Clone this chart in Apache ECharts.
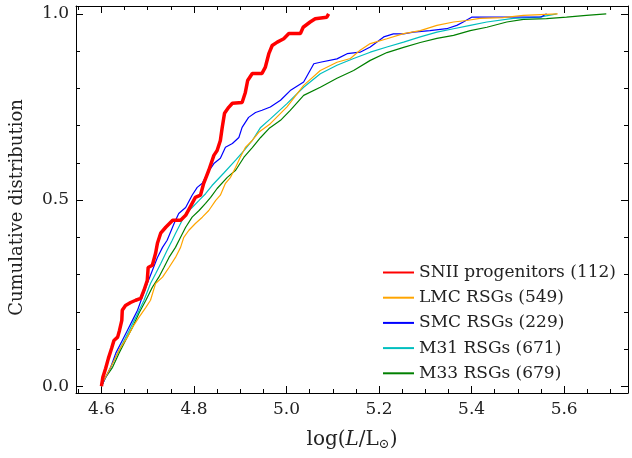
<!DOCTYPE html>
<html lang="en">

<head>
  <meta charset="UTF-8">
  <title>Cumulative distribution</title>
  <script src="https://cdn.jsdelivr.net/npm/echarts@6/dist/echarts.min.js"></script>
  <style>
    html, body { margin: 0; padding: 0; background: #fff; }
    #main { width: 632px; height: 458px; }
  </style>
</head>

<body>
  <div id="main"></div>
</body>
<script>
  // [log L, cumulative fraction]
  let snii = [
    [4.600, 0.000], [4.603, 0.024], [4.609, 0.048], [4.615, 0.075], [4.622, 0.102], [4.627, 0.123],
    [4.635, 0.132], [4.639, 0.150], [4.644, 0.177], [4.645, 0.204], [4.652, 0.217], [4.663, 0.225],
    [4.674, 0.231], [4.685, 0.236], [4.692, 0.258], [4.699, 0.284], [4.701, 0.319], [4.710, 0.325],
    [4.717, 0.357], [4.721, 0.384], [4.728, 0.411], [4.739, 0.427], [4.754, 0.446], [4.771, 0.446],
    [4.782, 0.459], [4.796, 0.491], [4.803, 0.507], [4.814, 0.513], [4.821, 0.545], [4.832, 0.580],
    [4.843, 0.620], [4.850, 0.633], [4.857, 0.660], [4.861, 0.695], [4.866, 0.733], [4.875, 0.749],
    [4.883, 0.760], [4.904, 0.762], [4.911, 0.789], [4.916, 0.821], [4.926, 0.840], [4.947, 0.840],
    [4.954, 0.856], [4.962, 0.894], [4.969, 0.915], [4.980, 0.924], [4.994, 0.933], [5.005, 0.947],
    [5.030, 0.947], [5.036, 0.964], [5.051, 0.978], [5.062, 0.987], [5.087, 0.991], [5.091, 1.000]
  ]
  let lmc = [
    [4.600, 0.000], [4.602, 0.008], [4.620, 0.051], [4.638, 0.097], [4.656, 0.132], [4.667, 0.158],
    [4.681, 0.185], [4.696, 0.212], [4.706, 0.231], [4.717, 0.276], [4.732, 0.293], [4.746, 0.319],
    [4.760, 0.346], [4.771, 0.373], [4.778, 0.400], [4.789, 0.419], [4.803, 0.437], [4.818, 0.454],
    [4.832, 0.472], [4.847, 0.499], [4.857, 0.513], [4.868, 0.545], [4.879, 0.561], [4.890, 0.588],
    [4.900, 0.615], [4.911, 0.641], [4.926, 0.660], [4.940, 0.682], [4.965, 0.705], [5.001, 0.750],
    [5.037, 0.808], [5.073, 0.848], [5.109, 0.870], [5.138, 0.880], [5.159, 0.902], [5.181, 0.920],
    [5.217, 0.933], [5.253, 0.947], [5.289, 0.955], [5.325, 0.969], [5.361, 0.978], [5.389, 0.982],
    [5.418, 0.988], [5.468, 0.990], [5.512, 0.996], [5.586, 1.000]
  ]
  let smc = [
    [4.600, 0.000], [4.606, 0.016], [4.620, 0.051], [4.631, 0.089], [4.645, 0.123], [4.656, 0.150],
    [4.667, 0.177], [4.678, 0.204], [4.688, 0.239], [4.699, 0.276], [4.710, 0.311], [4.721, 0.346],
    [4.732, 0.373], [4.742, 0.392], [4.757, 0.437], [4.767, 0.464], [4.782, 0.480], [4.796, 0.513],
    [4.807, 0.534], [4.818, 0.545], [4.829, 0.572], [4.843, 0.598], [4.857, 0.612], [4.868, 0.642],
    [4.883, 0.652], [4.897, 0.668], [4.904, 0.695], [4.918, 0.722], [4.933, 0.735], [4.947, 0.741],
    [4.965, 0.750], [4.987, 0.768], [5.008, 0.794], [5.037, 0.817], [5.059, 0.866], [5.073, 0.870],
    [5.109, 0.879], [5.131, 0.893], [5.159, 0.897], [5.181, 0.911], [5.210, 0.938], [5.231, 0.946],
    [5.253, 0.946], [5.274, 0.951], [5.310, 0.955], [5.346, 0.960], [5.368, 0.969], [5.382, 0.978],
    [5.400, 0.991], [5.551, 0.992], [5.562, 1.000]
  ]
  let m31 = [
    [4.600, 0.000], [4.606, 0.016], [4.624, 0.061], [4.642, 0.106], [4.660, 0.150], [4.674, 0.185],
    [4.692, 0.231], [4.706, 0.276], [4.717, 0.302], [4.728, 0.329], [4.742, 0.365], [4.753, 0.392],
    [4.760, 0.410], [4.771, 0.437], [4.782, 0.464], [4.796, 0.480], [4.811, 0.499], [4.825, 0.517],
    [4.839, 0.539], [4.864, 0.572], [4.890, 0.607], [4.908, 0.633], [4.926, 0.660], [4.944, 0.695],
    [4.965, 0.718], [5.001, 0.759], [5.037, 0.803], [5.073, 0.839], [5.109, 0.862], [5.145, 0.880],
    [5.181, 0.897], [5.217, 0.911], [5.253, 0.924], [5.289, 0.938], [5.325, 0.951], [5.361, 0.960],
    [5.397, 0.969], [5.433, 0.978], [5.490, 0.988], [5.547, 0.991], [5.584, 1.000]
  ]
  let m33 = [
    [4.600, 0.000], [4.609, 0.024], [4.624, 0.051], [4.638, 0.089], [4.652, 0.123], [4.667, 0.158],
    [4.681, 0.196], [4.696, 0.231], [4.710, 0.266], [4.724, 0.293], [4.735, 0.319], [4.746, 0.346],
    [4.760, 0.373], [4.771, 0.400], [4.782, 0.427], [4.796, 0.454], [4.811, 0.472], [4.825, 0.491],
    [4.836, 0.507], [4.850, 0.531], [4.872, 0.561], [4.890, 0.580], [4.908, 0.615], [4.926, 0.641],
    [4.944, 0.668], [4.962, 0.692], [4.987, 0.714], [5.008, 0.741], [5.037, 0.781], [5.073, 0.803],
    [5.109, 0.827], [5.145, 0.848], [5.181, 0.875], [5.217, 0.896], [5.253, 0.910], [5.289, 0.923],
    [5.325, 0.934], [5.361, 0.942], [5.397, 0.955], [5.433, 0.964], [5.476, 0.978], [5.512, 0.985],
    [5.562, 0.987], [5.605, 0.991], [5.648, 0.996], [5.691, 1.000]
  ]

  let xMajor = [4.6, 4.8, 5.0, 5.2, 5.4, 5.6]
  let xMinor = [4.55, 4.65, 4.7, 4.75, 4.85, 4.9, 4.95, 5.05, 5.1, 5.15, 5.25, 5.3, 5.35, 5.45, 5.5, 5.55, 5.65, 5.7]
  let yMajor = [0, 0.5, 1.0]
  let yMinor = [0.1, 0.2, 0.3, 0.4, 0.6, 0.7, 0.8, 0.9]

  let names = ['SNII progenitors (112)', 'LMC RSGs (549)', 'SMC RSGs (229)', 'M31 RSGs (671)', 'M33 RSGs (679)']
  let colors = ['#ff0000', '#ffa500', '#0000ff', '#00bfbf', '#008000']

  let font = 'DejaVu Serif'
  let xMin = 4.545, xMax = 5.738, yMin = -0.018, yMax = 1.021

  initChart()

  // one axis per side for the frame + major ticks, one more per side for minor ticks
  function axisOf(horiz, position, values, len, labels) {
    let axis = {
      type: 'value', position: position,
      min: horiz ? xMin : yMin, max: horiz ? xMax : yMax,
      axisLine: { show: labels !== null, onZero: false, lineStyle: { color: '#000' } },
      axisTick: { show: true, inside: true, length: len, customValues: values, lineStyle: { color: '#000' } },
      axisLabel: { show: false },
      splitLine: { show: false }
    }
    if (labels) {
      axis.axisLabel = {
        show: true, customValues: values, color: '#222', fontFamily: font, fontSize: 17,
        margin: horiz ? 8 : 7,
        formatter: v => v.toFixed(1)
      }
    }
    return axis
  }

  function initChart() {
    let myChart = echarts.init(document.getElementById('main'));
    let xs = [
      axisOf(true, 'bottom', xMajor, 7, true),
      axisOf(true, 'top', xMajor, 7, false),
      axisOf(true, 'bottom', xMinor, 4, null),
      axisOf(true, 'top', xMinor, 4, null)
    ]
    xs[0].name = '{n|log(}{i|L}{n|/L}{s|⊙}{n|)}'
    xs[0].nameLocation = 'middle'
    xs[0].nameGap = 36
    xs[0].nameTextStyle = {
      rich: {
        n: { fontFamily: font, fontSize: 20, color: '#222' },
        i: { fontFamily: font, fontSize: 20, fontStyle: 'italic', color: '#222' },
        s: { fontFamily: font, fontSize: 13, color: '#222', verticalAlign: 'bottom', padding: [9, 0, 0, 0] }
      }
    }
    let ys = [
      axisOf(false, 'left', yMajor, 7, true),
      axisOf(false, 'right', yMajor, 7, false),
      axisOf(false, 'left', yMinor, 4, null),
      axisOf(false, 'right', yMinor, 4, null)
    ]
    ys[0].name = 'Cumulative distribution'
    ys[0].nameLocation = 'middle'
    ys[0].nameGap = 50
    ys[0].nameTextStyle = { fontFamily: font, fontSize: 18, color: '#222', padding: [0, 16, 0, 0] }

    let sets = [snii, lmc, smc, m31, m33]
    let series = sets.map((d, i) => ({
      name: names[i],
      type: 'line',
      data: d,
      symbol: 'none',
      z: i === 0 ? 10 : 5 - i,
      color: colors[i],
      lineStyle: { color: colors[i], width: i === 0 ? 3.5 : 1.2 }
    }))

    let option = {
      animation: false,
      grid: { left: 76, right: 4, top: 6, bottom: 65 },
      legend: {
        orient: 'vertical',
        left: 382,
        top: 264,
        padding: 0,
        itemWidth: 31,
        itemHeight: 14,
        itemGap: 8.2,
        itemStyle: { color: 'rgba(0,0,0,0)', borderWidth: 0, opacity: 0 },
        textStyle: { fontFamily: font, fontSize: 17, lineHeight: 14, color: '#222' },
        data: names
      },
      xAxis: xs,
      yAxis: ys,
      series: series
    }
    myChart.setOption(option);
  }
</script>

</html>
